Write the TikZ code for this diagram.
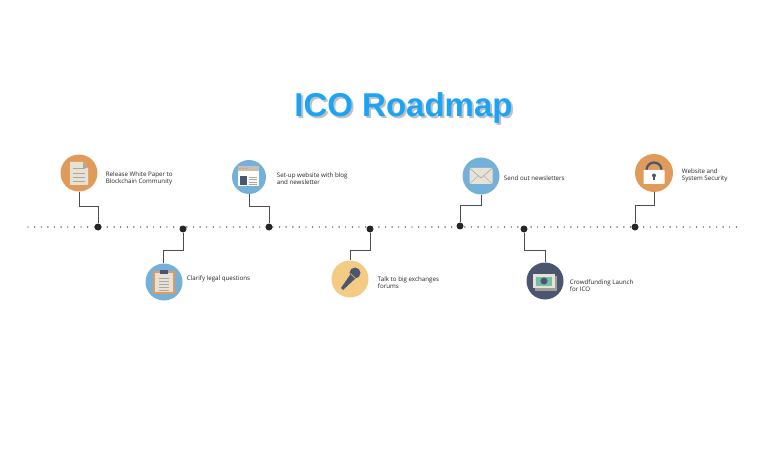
\documentclass[tikz,border=0pt]{standalone}
\usepackage{fontspec}
\setmainfont{Open Sans}
\newfontfamily\titlefont{Liberation Sans}
\usepackage{xcolor}
\usetikzlibrary{positioning}

\definecolor{icoorange}{HTML}{E09A5A}
\definecolor{icoblue}{HTML}{74B0D8}
\definecolor{icoyellow}{HTML}{F4CB85}
\definecolor{iconavy}{HTML}{4A5670}
\definecolor{icocream}{HTML}{E6E2D6}
\definecolor{icoline}{HTML}{A9A89F}
\definecolor{icogreen}{HTML}{74BFA8}
\definecolor{icotitle}{HTML}{1BA4F6}
\definecolor{icotext}{HTML}{222222}

\begin{document}
\begin{tikzpicture}[x=1pt, y=-1pt,
		badge/.style={circle, minimum size=37pt, inner sep=0pt},
		stone/.style={circle, fill=black!85, minimum size=7pt, inner sep=0pt},
		wire/.style={draw=black!70, line width=1pt},
		label/.style={font=\fontsize{6.2}{7.5}\selectfont, text=icotext, align=left, inner sep=0pt}]
		\useasboundingbox (0,0) rectangle (768,449);

		% title
		\node[font=\titlefont\bfseries\fontsize{33}{36}\selectfont, text=black!25] (shadow) at (405.5,110) {ICO Roadmap};
		\node[font=\titlefont\bfseries\fontsize{33}{36}\selectfont, text=icotitle] (title) at (403.5,108) {ICO Roadmap};

		% time line
		\coordinate (start) at (28,227);
		\coordinate (end) at (740,227);
		\draw[line width=1.4pt, line cap=round, dash pattern=on 0pt off 6.62pt, black!85] (start) -- (end);

		% milestones on the line
		\node[stone] (d1) at (98,227) {};
		\node[stone] (d2) at (183,229) {};
		\node[stone] (d3) at (269,227) {};
		\node[stone] (d4) at (370,229) {};
		\node[stone] (d5) at (460,226) {};
		\node[stone] (d6) at (524,229) {};
		\node[stone] (d7) at (635,227) {};

		% circles
		\node[badge, fill=icoorange] (paper) at (79,173) {};
		\node[badge, fill=icoblue] (clip) at (164,282) {};
		\node[badge, fill=icoblue, minimum size=34pt] (web) at (249,177) {};
		\node[badge, fill=icoyellow] (mic) at (350,279) {};
		\node[badge, fill=icoblue] (mail) at (481,176) {};
		\node[badge, fill=iconavy] (money) at (545,281) {};
		\node[badge, fill=icoorange, minimum size=38pt] (lock) at (654,173) {};

		% elbows
		\coordinate (k1) at (98,207);
		\coordinate (k2) at (163,250);
		\coordinate (k3) at (269,207);
		\coordinate (k4) at (350,250);
		\coordinate (k5) at (460,206);
		\coordinate (k6) at (545,250);
		\coordinate (k7) at (635,206);
		\draw[wire] (paper.south) |- (k1) -- (d1);
		\draw[wire] (d2) |- (k2) -- (clip.north -| k2);
		\draw[wire] (web.south) |- (k3) -- (d3);
		\draw[wire] (d4) |- (k4) -- (mic.north);
		\draw[wire] (mail.south) |- (k5) -- (d5);
		\draw[wire] (d6) |- (k6) -- (money.north);
		\draw[wire] (lock.south) |- (k7) -- (d7);

		% labels
		\node[label, right=8pt of paper, yshift=-5.5pt] (tpaper) {Release White Paper to\\Blockchain Community};
		\node[label, right=4pt of clip, yshift=3pt] (tclip) {Clarify legal questions};
		\node[label, right=10.5pt of web, yshift=-1.5pt] (tweb) {Set-up website with blog\\and newsletter};
		\node[label, right=9pt of mic, yshift=-3.5pt] (tmic) {Talk to big exchanges\\forums};
		\node[label, right=4pt of mail, yshift=-2pt] (tmail) {Send out newsletters};
		\node[label, right=6pt of money, yshift=-4.5pt] (tmoney) {Crowdfunding Launch\\for ICO};
		\node[label, right=8.5pt of lock, yshift=-2.5pt] (tlock) {Website and\\System Security};

		% icon: white paper
		\begin{scope}[shift={(paper.center)}]
			\fill[icocream] (-9,-11) -- (4,-11) -- (9,-5) -- (9,12) -- (-9,12) -- cycle;
			\fill[icoline] (4,-11) -- (9,-5) -- (4,-5) -- cycle;
			\foreach \ly in {-5,0,4,8}
				\draw[icoline, line width=0.6pt] (-6,\ly) -- (6,\ly);
		\end{scope}

		% icon: clipboard
		\begin{scope}[shift={(clip.center)}]
			\fill[icoorange] (-11,-11) rectangle (11,12);
			\fill[icocream] (-9,-9) rectangle (9,10);
			\fill[iconavy] (-4,-12) rectangle (4,-8);
			\foreach \ly in {-4,-1,2,5,8}
				\draw[icoline, line width=0.5pt] (-5,\ly) -- (5,\ly);
		\end{scope}

		% icon: website
		\begin{scope}[shift={(web.center)}]
			\fill[white!90!icocream] (-11,-11) rectangle (10,9);
			\fill[icocream!85!black] (-11,-11) rectangle (10,-6);
			\foreach \lx in {-9,-6,-3}
				\fill[icoorange] (\lx,-8.5) circle (0.9);
			\fill[iconavy] (-9,-1) rectangle (-2,8);
			\foreach \ly in {0,2.5,5,7.5}
				\draw[icoline, line width=0.5pt] (0,\ly) -- (8,\ly);
		\end{scope}

		% icon: microphone
		\begin{scope}[shift={(mic.center)}]
			\fill[iconavy] (2,-7) -- (7,-2) -- (-7,11) -- (-9,9) -- cycle;
			\fill[iconavy] (5,-6) circle (5.5);
			\draw[icoorange, line width=0.8pt] (0.5,-5.5) -- (5.5,-0.5);
		\end{scope}

		% icon: mail
		\begin{scope}[shift={(mail.center)}]
			\fill[icocream, rounded corners=1pt] (-11.5,-8) rectangle (11.5,8);
			\draw[icoline, line width=0.6pt] (-11,-7.5) -- (0,2) -- (11,-7.5);
			\draw[icoline, line width=0.4pt] (-11,7.5) -- (-3,0) (11,7.5) -- (3,0);
		\end{scope}

		% icon: money
		\begin{scope}[shift={(money.center)}]
			\fill[icocream!70!black] (-10,-5) rectangle (12,10);
			\fill[icocream] (-12,-7) rectangle (10,7);
			\fill[icogreen] (-9,-4.5) rectangle (7,4.5);
			\fill[iconavy] (-1,0) circle (3.5);
		\end{scope}

		% icon: lock
		\begin{scope}[shift={(lock.center)}]
			\draw[iconavy, line width=2.2pt] (-7.5,-3) arc[start angle=180, end angle=360, radius=7.5];
			\fill[white, rounded corners=0.6pt] (-10.5,-3) rectangle (10.5,11);
			\fill[iconavy] (0,2.5) circle (2);
			\fill[iconavy] (-0.9,3) rectangle (0.9,7);
		\end{scope}
	\end{tikzpicture}
\end{document}
